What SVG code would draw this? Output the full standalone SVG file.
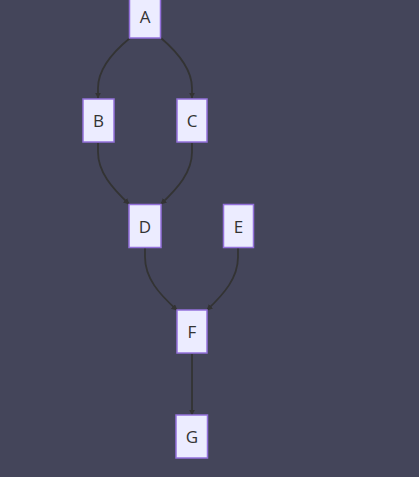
<svg xmlns="http://www.w3.org/2000/svg" width="419" height="477" viewBox="0 0 419 477">
<style>
.node rect{fill:#ECECFF;stroke:#9370DB;stroke-width:1.5}
.node text{font-family:"Open Sans","Liberation Sans",sans-serif;font-size:17px;fill:#333;text-anchor:middle;dominant-baseline:central}
.edges path{fill:none;stroke:#333;stroke-width:1.8}
</style>
<defs>
<marker id="arr" viewBox="0 0 10 10" refX="9" refY="5" markerWidth="6" markerHeight="6" orient="auto" markerUnits="userSpaceOnUse">
<path d="M0,0 L10,5 L0,10 z" fill="#333"/>
</marker>
</defs>
<rect width="419" height="477" fill="#44455a"/>
<g class="edges">
<path d="M130,38 C108,56 98,72 98,88 L98,98" marker-end="url(#arr)"/>
<path d="M161,38 C182,56 192,72 192,88 L192,98" marker-end="url(#arr)"/>
<path d="M98,143 L98,152 C98,172 112,188 129,204" marker-end="url(#arr)"/>
<path d="M192,143 L192,152 C192,172 178,188 161,204" marker-end="url(#arr)"/>
<path d="M145,248 L145,257 C145,278 159,294 177,310" marker-end="url(#arr)"/>
<path d="M238,248 L238,257 C238,278 224,294 207,310" marker-end="url(#arr)"/>
<path d="M192,354 L192,415" marker-end="url(#arr)"/>
</g>
<g id="A" class="node"><rect x="129.5" y="-5" width="31" height="43"/><text x="145" y="16.5">A</text></g>
<g id="B" class="node"><rect x="83" y="99" width="31" height="43"/><text x="98.5" y="120.5">B</text></g>
<g id="C" class="node"><rect x="177" y="99" width="30" height="43"/><text x="192" y="120.5">C</text></g>
<g id="D" class="node"><rect x="129" y="204.5" width="32" height="43"/><text x="145" y="226">D</text></g>
<g id="E" class="node"><rect x="223.5" y="204.5" width="30" height="43"/><text x="238.5" y="226">E</text></g>
<g id="F" class="node"><rect x="177" y="310" width="30" height="43"/><text x="192" y="331.5">F</text></g>
<g id="G" class="node"><rect x="176" y="415" width="31.5" height="43"/><text x="192" y="436.5">G</text></g>
</svg>
